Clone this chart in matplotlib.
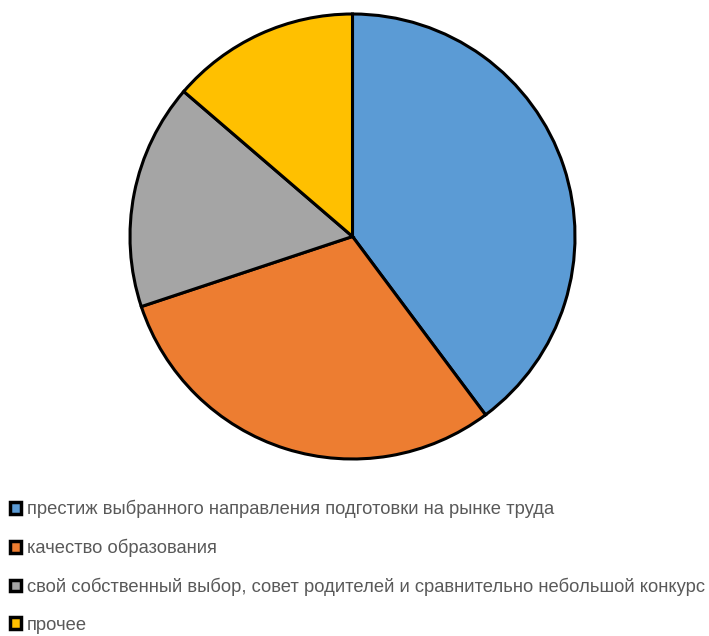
import matplotlib
matplotlib.use("Agg")
import matplotlib.pyplot as plt

labels = [
    "престиж выбранного направления подготовки на рынке труда",
    "качество образования",
    "свой собственный выбор, совет родителей и сравнительно небольшой конкурс",
    "прочее",
]
values = [39.8, 30.1, 16.4, 13.7]
colors = ["#5b9bd5", "#ed7d31", "#a5a5a5", "#ffc000"]

plt.rcParams['font.family'] = ['Liberation Sans', 'DejaVu Sans']

W, H = 709, 636
fig = plt.figure(figsize=(W / 100, H / 100), dpi=100)

cx, cy, r = 352.5, 236.5, 222.5
ax = fig.add_axes([(cx - r) / W, 1 - (cy + r) / H, 2 * r / W, 2 * r / H])
wedges, _ = ax.pie(values, colors=colors, startangle=90, counterclock=False,
                   wedgeprops=dict(edgecolor="black", linewidth=2.2))
ax.set_xlim(-1, 1)
ax.set_ylim(-1, 1)
ax.set_aspect("auto")
ax.axis("off")

leg = fig.legend(wedges, labels, loc="upper left", bbox_to_anchor=(10 / W, 1 - 500 / H),
                 frameon=False, fontsize=13.2, handlelength=0.62, handleheight=0.62,
                 handletextpad=0.3, labelspacing=1.12, borderpad=0, borderaxespad=0)
for t in leg.get_texts():
    t.set_color("#595959")
for h in leg.legend_handles:
    h.set_linewidth(2.5)

fig.savefig("out.png", dpi=100)
